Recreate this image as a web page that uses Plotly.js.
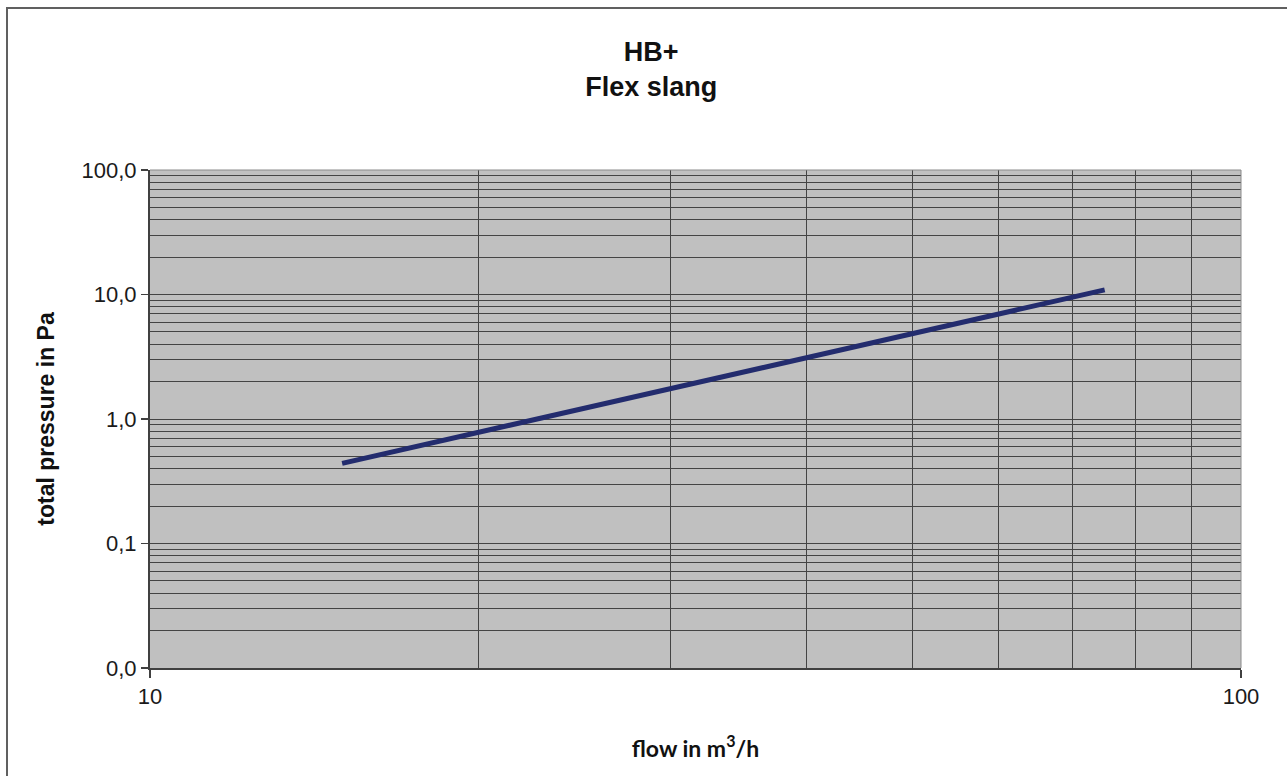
<!DOCTYPE html>
<html>
<head>
<meta charset="utf-8">
<script src="https://cdn.plot.ly/plotly-3.0.1.min.js"></script>
<style>
html,body{margin:0;padding:0;background:#fff;}
#wrap{position:relative;width:1287px;height:776px;}
#chart{position:absolute;left:0;top:0;width:1287px;height:776px;}
#frame{position:absolute;left:6px;top:7px;width:1290px;height:780px;border-left:2px solid #606060;border-top:2px solid #606060;pointer-events:none;}
</style>
</head>
<body>
<div id="wrap"><div id="chart"></div><div id="frame"></div></div>
<script>
// data
const flow = [15, 20, 30, 40, 50, 60, 70, 75];
const pressure = [0.44, 0.78, 1.75, 3.1, 4.85, 6.95, 9.5, 10.9];
const yMajorVals = [0.01, 0.1, 1, 10, 100];
const yMajorText = ['0,0', '0,1', '1,0', '10,0', '100,0'];
const xMajorVals = [10, 100];
const xMajorText = ['10', '100'];
const xMinorVals = [20, 30, 40, 50, 60, 70, 80, 90];
const yMinorVals = [];
[0.01, 0.1, 1, 10].forEach(d => { for (let k = 2; k <= 9; k++) yMinorVals.push(+(d * k).toPrecision(3)); });

const gridCol = '#444444';
const trace = {
  x: flow, y: pressure, type: 'scatter', mode: 'lines',
  line: {color: '#232c6e', width: 5}, hoverinfo: 'skip', showlegend: false
};
const layout = {
  width: 1287, height: 776,
  margin: {l: 150, r: 46, t: 170, b: 108},
  paper_bgcolor: 'rgba(0,0,0,0)', plot_bgcolor: '#c0c0c0',
  font: {family: 'Liberation Sans, Arial, sans-serif', color: '#1a1a1a'},
  title: {text: '<b>HB+</b><br><b>Flex slang</b>', x: 0.506, xref: 'container', y: 0.922, yanchor: 'top',
          font: {family: 'Liberation Sans, Arial, sans-serif', size: 27, color: '#111'}},
  xaxis: {
    type: 'log', range: [1, 2], tickmode: 'array', tickvals: xMajorVals, ticktext: xMajorText,
    ticks: 'outside', ticklen: 8, tickwidth: 1.5, tickcolor: '#404040',
    showline: true, linecolor: '#404040', linewidth: 2, mirror: false,
    showgrid: true, gridcolor: gridCol, gridwidth: 1,
    minor: {tickmode: 'array', tickvals: xMinorVals, ticks: '', showgrid: true, gridcolor: gridCol, gridwidth: 1},
    tickfont: {size: 22, color: '#1a1a1a'}, zeroline: false,
    title: {text: '<b>flow in m<sup>3</sup>/h</b>', standoff: 32, font: {family: 'Lato, Open Sans, sans-serif', size: 23, color: '#111'}}
  },
  yaxis: {
    type: 'log', range: [-2, 2], tickmode: 'array', tickvals: yMajorVals, ticktext: yMajorText,
    ticks: 'outside', ticklen: 7, tickwidth: 1.5, tickcolor: '#404040',
    showline: true, linecolor: '#404040', linewidth: 2,
    showgrid: true, gridcolor: gridCol, gridwidth: 1,
    minor: {tickmode: 'array', tickvals: yMinorVals, ticks: '', showgrid: true, gridcolor: gridCol, gridwidth: 1},
    tickfont: {size: 22, color: '#1a1a1a'}, zeroline: false,
    title: {text: '<b>total pressure in Pa</b>', standoff: 20, font: {family: 'Liberation Sans, Arial, sans-serif', size: 23, color: '#111'}}
  },
  shapes: [
    {type: 'line', xref: 'paper', yref: 'paper', x0: 0, x1: 1, y0: 1, y1: 1, line: {color: '#8a8a8a', width: 1}},
    {type: 'line', xref: 'paper', yref: 'paper', x0: 1, x1: 1, y0: 0, y1: 1, line: {color: '#8a8a8a', width: 1}}
  ]
};
Plotly.newPlot('chart', [trace], layout, {staticPlot: true, displayModeBar: false});
</script>
</body>
</html>
